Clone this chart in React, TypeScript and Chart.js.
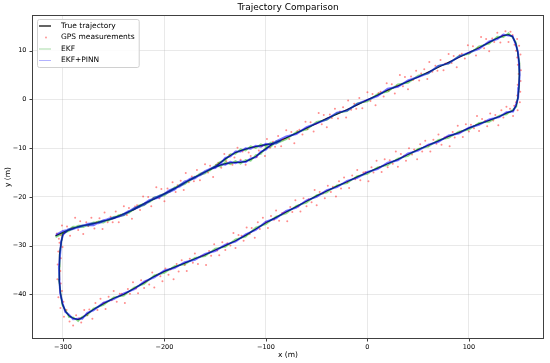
import React, { useEffect, useRef } from 'react';
import { Chart, registerables } from 'chart.js';
Chart.register(...registerables);

const FONT = "'DejaVu Sans', sans-serif";

const xTicks = [-300, -200, -100, 0, 100];
const yTicks = [10, 0, -10, -20, -30, -40];
const xRange = [-330.5, 174];
const yRange = [-49.17, 17.33];

const trueTrajectory: number[][] = [
  [-307.4,-28.0],[-300,-27.3],[-290,-26.4],[-280,-25.9],[-270,-25.5],[-260,-25.0],[-250,-24.4],[-240,-23.5],[-230,-22.6],[-220,-21.4],
  [-210,-20.4],[-200,-19.4],[-190,-18.3],[-180,-17.1],[-170,-16.0],[-160,-14.9],[-150,-13.8],[-145,-13.0],[-140,-12.2],[-135,-11.5],
  [-130,-10.9],[-125,-10.5],[-120,-10.2],[-115,-9.9],[-110,-9.7],[-105,-9.5],[-100,-9.3],[-95,-9.1],[-90,-8.8],[-80,-7.9],
  [-70,-6.9],[-60,-5.9],[-50,-4.9],[-40,-3.9],[-30,-3.0],[-20,-2.1],[-10,-1.1],[0,-0.1],[10,0.9],[20,1.9],
  [30,2.8],[40,3.7],[50,4.6],[60,5.6],[70,6.6],[80,7.6],[90,8.6],[100,9.6],[110,10.6],[120,11.7],
  [128,12.6],[134,13.1],[139,13.3],[143,12.9],[146,11.6],[148,9.8],[149.5,7.5],[149.8,5.0],[149.3,2.5],[148.3,0.3],
  [146.5,-1.3],[143.5,-2.3],[137,-2.8],[130,-3.5],[120,-4.3],[110,-5.0],[100,-5.9],[90,-6.8],[80,-7.6],[70,-8.5],
  [60,-9.4],[50,-10.3],[40,-11.3],[30,-12.3],[20,-13.2],[10,-14.1],[0,-15.0],[-10,-15.9],[-20,-16.9],[-30,-17.8],
  [-40,-18.8],[-50,-19.8],[-60,-20.9],[-70,-22.0],[-80,-23.1],[-90,-24.2],[-100,-25.3],[-110,-26.6],[-120,-27.9],[-130,-29.0],
  [-140,-30.0],[-150,-30.9],[-160,-31.9],[-170,-32.7],[-180,-33.6],[-190,-34.4],[-200,-35.3],[-210,-36.3],[-220,-37.6],[-230,-38.8],
  [-240,-40.0],[-250,-40.8],[-260,-41.9],[-270,-43.1],[-276,-44.0],[-281,-44.8],[-285,-45.2],[-290,-44.9],[-294,-44.4],[-297.5,-43.5],
  [-300.5,-42.0],[-302.5,-39.8],[-303.7,-37.0],[-303.8,-34.5],[-303,-31.8],[-301.6,-29.2],[-300,-27.6],[-295,-26.9],[-285,-26.1],[-275,-25.7],
  [-265,-25.2],[-255,-24.7],[-245,-23.9],[-235,-23.1],[-225,-21.9],[-215,-20.9],[-205,-19.9],[-195,-18.8],[-185,-17.7],[-175,-16.5],
  [-165,-15.4],[-155,-14.4],[-150,-13.9],[-145,-13.5],[-140,-13.2],[-135,-13.0],[-130,-12.9],[-125,-12.9],[-120,-12.7],[-115,-12.3],
  [-110,-11.7],[-105,-10.9],[-100,-10.1],[-95,-9.4],[-90,-8.8],[-85,-8.4],
];

const ekfPinnEstimate: number[][] = [
  [-307.0,-27.8],[-300,-27.0],[-290,-26.6],[-280,-25.8],[-270,-25.8],[-260,-24.8],[-250,-24.4],[-240,-23.7],[-230,-22.3],[-220,-21.6],
  [-210,-20.2],[-200,-19.4],[-190,-18.5],[-180,-16.8],[-170,-16.2],[-160,-14.7],[-150,-13.8],[-145,-13.2],[-140,-12.0],[-135,-11.7],
  [-130,-10.7],[-125,-10.7],[-120,-10.0],[-115,-10.1],[-110,-9.5],[-105,-9.7],[-100,-9.1],[-95,-9.3],[-90,-8.6],[-80,-7.6],
  [-70,-7.1],[-60,-5.7],[-50,-4.9],[-40,-4.1],[-30,-2.7],[-20,-2.3],[-10,-0.9],[0,-0.1],[10,0.7],[20,2.2],
  [30,2.6],[40,3.9],[50,4.6],[60,5.4],[70,6.9],[80,7.4],[90,8.8],[100,9.6],[110,10.4],[120,11.9],
  [128,12.4],[134,13.3],[139,13.1],[143,13.0],[146,11.4],[148.3,9.8],[149.3,7.5],[150.0,5.0],[149.1,2.5],[148.5,0.3],
  [146.3,-1.2],[143.5,-2.5],[137,-2.6],[130,-3.6],[120,-4.1],[110,-5.2],[100,-5.8],[90,-7.0],[80,-7.4],[70,-8.7],
  [60,-9.3],[50,-10.5],[40,-11.1],[30,-12.5],[20,-13.0],[10,-14.3],[0,-14.9],[-10,-16.1],[-20,-16.7],[-30,-18.0],
  [-40,-18.6],[-50,-20.0],[-60,-20.7],[-70,-22.2],[-80,-22.9],[-90,-24.4],[-100,-25.1],[-110,-26.8],[-120,-27.7],[-130,-29.2],
  [-140,-29.8],[-150,-31.1],[-160,-31.7],[-170,-32.9],[-180,-33.4],[-190,-34.6],[-200,-35.1],[-210,-36.5],[-220,-37.4],[-230,-39.0],
  [-240,-39.8],[-250,-41.0],[-260,-41.7],[-270,-43.3],[-276,-43.8],[-281,-45.0],[-285,-45.0],[-290,-45.1],[-294,-44.2],[-297.7,-43.6],
  [-300.3,-41.9],[-302.7,-39.8],[-303.5,-37.0],[-304.0,-34.5],[-302.8,-31.8],[-301.8,-29.2],[-300,-27.8],[-295,-26.7],[-285,-26.3],[-275,-25.5],
  [-265,-25.4],[-255,-24.5],[-245,-24.1],[-235,-22.9],[-225,-22.1],[-215,-20.7],[-205,-20.1],[-195,-18.6],[-185,-17.9],[-175,-16.3],
  [-165,-15.6],[-155,-14.2],[-150,-14.1],[-145,-13.3],[-140,-13.4],[-135,-12.8],[-130,-13.1],[-125,-12.7],[-120,-12.9],[-115,-12.1],
  [-110,-11.9],[-105,-10.7],[-100,-10.3],[-95,-9.2],[-90,-9.0],[-85,-8.3],
];

const ekfEstimate: number[][] = [
  [-307.2,-28.3],[-300,-27.5],[-290,-26.1],[-280,-26.2],[-270,-25.2],[-260,-25.3],[-250,-24.1],[-240,-23.8],[-230,-22.4],[-220,-21.7],
  [-210,-20.1],[-200,-19.7],[-190,-18.0],[-180,-17.4],[-170,-15.8],[-160,-15.2],[-150,-13.6],[-145,-12.8],[-140,-12.5],[-135,-11.2],
  [-130,-11.2],[-125,-10.2],[-120,-10.5],[-115,-9.6],[-110,-10.0],[-105,-9.2],[-100,-9.6],[-95,-8.8],[-90,-9.1],[-80,-8.2],
  [-70,-6.7],[-60,-6.2],[-50,-4.6],[-40,-4.2],[-30,-2.8],[-20,-2.4],[-10,-0.8],[0,-0.4],[10,1.1],[20,1.6],
  [30,3.1],[40,3.4],[50,4.9],[60,5.3],[70,6.9],[80,7.3],[90,8.9],[100,9.3],[110,10.9],[120,11.4],
  [128,12.9],[134,12.8],[139,13.6],[143,12.7],[146.3,11.7],[148.2,9.6],[149.8,7.6],[149.6,4.9],[149.6,2.6],[148.0,0.2],
  [146.8,-1.5],[143.3,-2.1],[137,-3.1],[130,-3.3],[120,-4.6],[110,-4.8],[100,-6.2],[90,-6.6],[80,-7.9],[70,-8.3],
  [60,-9.7],[50,-10.1],[40,-11.6],[30,-12.1],[20,-13.5],[10,-13.9],[0,-15.3],[-10,-15.7],[-20,-17.2],[-30,-17.6],
  [-40,-19.1],[-50,-19.6],[-60,-21.2],[-70,-21.8],[-80,-23.4],[-90,-24.0],[-100,-25.6],[-110,-26.3],[-120,-28.2],[-130,-28.7],
  [-140,-30.3],[-150,-30.6],[-160,-32.2],[-170,-32.5],[-180,-33.9],[-190,-34.2],[-200,-35.6],[-210,-36.1],[-220,-37.9],[-230,-38.6],
  [-240,-40.3],[-250,-40.6],[-260,-42.2],[-270,-42.9],[-276,-44.3],[-281,-44.6],[-285,-45.5],[-290,-44.7],[-294,-44.7],[-297.3,-43.3],
  [-300.7,-42.2],[-302.3,-39.6],[-303.9,-37.2],[-303.6,-34.3],[-303.2,-32.0],[-301.4,-29.0],[-300,-27.4],[-295,-27.1],[-285,-25.9],[-275,-25.9],
  [-265,-25.0],[-255,-24.9],[-245,-23.7],[-235,-23.3],[-225,-21.7],[-215,-21.1],[-205,-19.7],[-195,-19.0],[-185,-17.5],[-175,-16.7],
  [-165,-15.2],[-155,-14.6],[-150,-13.6],[-145,-13.8],[-140,-12.9],[-135,-13.3],[-130,-12.6],[-125,-13.2],[-120,-12.4],[-115,-12.6],
  [-110,-11.4],[-105,-11.2],[-100,-9.8],[-95,-9.7],[-90,-8.6],[-85,-8.5],
];

const gpsMeasurements: number[][] = [
  [-306,-27.5],[-304,-28.6],[-301,-25.9],[-299,-27.4],[-296,-26.1],[-293,-28.0],[-291,-26.4],[-288,-24.3],[-285,-26.8],[-283,-25.0],
  [-280,-27.6],[-277,-25.2],[-275,-26.0],[-272,-24.3],[-269,-26.5],[-267,-25.2],[-264,-24.4],[-261,-26.6],[-259,-23.2],[-256,-25.2],
  [-253,-24.1],[-251,-25.2],[-248,-23.0],[-245,-25.2],[-243,-23.8],[-240,-21.9],[-237,-23.7],[-235,-22.3],[-232,-24.5],[-229,-22.0],
  [-227,-21.7],[-224,-22.7],[-221,-19.9],[-219,-21.4],[-216,-20.0],[-213,-21.9],[-211,-20.3],[-208,-18.0],[-205,-20.3],[-203,-18.4],
  [-200,-20.9],[-197,-18.3],[-195,-18.9],[-192,-17.0],[-189,-19.0],[-187,-17.6],[-184,-16.7],[-181,-18.6],[-179,-15.1],[-176,-17.0],
  [-173,-15.8],[-171,-16.8],[-168,-14.5],[-165,-16.6],[-163,-15.2],[-160,-13.3],[-157,-15.0],[-155,-13.6],[-152,-15.9],[-149,-13.4],
  [-147,-13.0],[-144,-14.0],[-141,-11.2],[-139,-12.7],[-136,-11.4],[-133,-13.4],[-131,-11.9],[-128,-9.9],[-125,-12.4],[-123,-10.7],
  [-120,-13.4],[-117,-10.9],[-115,-11.6],[-112,-9.8],[-109,-11.8],[-107,-10.5],[-104,-9.6],[-101,-11.6],[-99,-8.1],[-96,-9.9],
  [-93,-8.7],[-91,-9.7],[-88,-7.5],[-85,-9.6],[-83,-8.2],[-80,-6.3],[-77,-8.1],[-75,-6.7],[-72,-9.0],[-69,-6.5],
  [-67,-6.2],[-64,-7.2],[-61,-4.6],[-59,-6.1],[-56,-4.7],[-53,-6.6],[-51,-5.0],[-48,-2.8],[-45,-5.1],[-43,-3.2],
  [-40,-5.7],[-37,-3.1],[-35,-3.8],[-32,-1.9],[-29,-3.9],[-27,-2.5],[-24,-1.6],[-21,-3.7],[-19,-0.2],[-16,-2.1],
  [-13,-0.9],[-11,-1.9],[-8,0.3],[-5,-1.8],[-3,-0.4],[0,1.5],[3,-0.3],[5,1.1],[8,-1.2],[11,1.3],
  [13,1.6],[16,0.6],[19,3.3],[21,1.8],[24,3.1],[27,1.2],[29,2.8],[32,5.0],[35,2.7],[37,4.6],
  [40,2.1],[43,4.7],[45,4.0],[48,5.9],[51,3.9],[53,5.3],[56,6.2],[59,4.2],[61,7.7],[64,5.7],
  [67,6.9],[69,5.9],[72,8.1],[75,6.0],[77,7.4],[80,9.3],[83,7.5],[85,8.9],[88,6.6],[91,9.1],
  [93,9.4],[96,8.4],[99,11.1],[101,9.6],[104,10.9],[107,9.0],[109,10.6],[112,12.8],[115,10.5],[117,12.4],
  [120,9.9],[123,12.5],[125,11.8],[128,13.7],[131,11.7],[133,13.1],[136,14.0],[139,11.8],[141,13.9],
  [143,13.2],[145,11.2],[147.5,12.4],[146.5,10.0],[149.5,11.0],[147.6,8.6],[150.8,9.2],[148.2,7.1],[151.2,6.0],[149.0,5.2],
  [150.9,3.8],[148.1,3.0],[150.6,1.6],[147.6,0.8],[150.2,-0.6],[146.4,-0.6],[148.0,-2.2],[144.6,-1.3],[143.5,-3.4],[140.5,-1.9],
  [137,-1.5],[134,-3.7],[132,-2.2],[129,-5.3],[126,-3.2],[124,-4.3],[121,-2.9],[118,-5.5],[116,-4.4],[113,-4.0],
  [110,-6.5],[108,-3.4],[105,-5.9],[102,-5.2],[100,-6.6],[97,-5.1],[94,-7.7],[92,-6.7],[89,-5.4],[86,-7.8],
  [84,-6.7],[81,-9.6],[78,-7.7],[76,-7.8],[73,-9.3],[70,-7.2],[68,-9.1],[65,-8.3],[62,-10.7],[60,-9.5],
  [57,-8.5],[54,-10.7],[52,-9.2],[49,-12.3],[46,-10.3],[44,-11.3],[41,-10.0],[38,-12.6],[36,-11.6],[33,-11.2],
  [30,-13.8],[28,-10.7],[25,-13.2],[22,-12.5],[20,-13.9],[17,-12.3],[14,-14.9],[12,-13.9],[9,-12.6],[6,-15.0],
  [4,-13.9],[1,-16.8],[-2,-14.9],[-4,-15.0],[-7,-16.6],[-10,-14.5],[-12,-16.4],[-15,-15.6],[-18,-18.2],[-20,-17.0],
  [-23,-16.0],[-26,-18.3],[-28,-16.8],[-31,-19.9],[-34,-17.9],[-36,-19.0],[-39,-17.7],[-42,-20.3],[-44,-19.3],[-47,-19.0],
  [-50,-21.7],[-52,-18.6],[-55,-21.1],[-58,-20.5],[-60,-21.9],[-63,-20.3],[-66,-23.0],[-68,-22.0],[-71,-20.7],[-74,-23.1],
  [-76,-22.1],[-79,-25.0],[-82,-23.2],[-84,-23.3],[-87,-24.9],[-90,-22.8],[-92,-24.7],[-95,-23.9],[-98,-26.4],[-100,-25.2],
  [-103,-24.3],[-106,-26.6],[-108,-25.2],[-111,-28.4],[-114,-26.4],[-116,-27.6],[-119,-26.3],[-122,-29.0],[-124,-28.0],[-127,-27.8],
  [-130,-30.5],[-132,-27.4],[-135,-30.0],[-138,-29.5],[-140,-30.9],[-143,-29.3],[-146,-32.0],[-148,-31.0],[-151,-29.7],[-154,-32.1],
  [-156,-31.1],[-159,-34.0],[-162,-32.1],[-164,-32.2],[-167,-33.8],[-170,-31.6],[-172,-33.5],[-175,-32.7],[-178,-35.2],[-180,-34.0],
  [-183,-33.0],[-186,-35.3],[-188,-33.8],[-191,-36.9],[-194,-34.9],[-196,-36.0],[-199,-34.7],[-202,-37.3],[-204,-36.3],[-207,-36.0],
  [-210,-38.6],[-212,-35.5],[-215,-38.0],[-218,-37.3],[-220,-38.7],[-223,-37.1],[-226,-39.8],[-228,-38.8],[-231,-37.5],[-234,-39.9],
  [-236,-38.9],[-239,-41.8],[-242,-39.9],[-244,-39.9],[-247,-41.5],[-250,-39.3],[-252,-41.2],[-255,-40.5],[-258,-43.0],[-260,-41.8],
  [-263,-40.9],[-266,-43.2],[-268,-41.8],[-271,-45.0],[-274,-43.1],[-276,-44.3],[-279,-43.2],[-282,-45.8],[-284,-44.9],[-287,-44.3],
  [-290,-46.4],[-293.5,-45.6],[-296.5,-43.2],[-299,-44.6],[-299.5,-41.5],[-302.5,-42.8],[-301,-39.3],[-304.5,-40.6],[-302.2,-37.8],[-305.5,-36.9],
  [-302.6,-35.2],[-305.2,-33.9],[-302.1,-32.6],[-304.6,-31.2],[-300.4,-30.3],[-303.4,-29.4],[-301.8,-27.9],
];

const legendLabels = ['True trajectory', 'GPS measurements', 'EKF', 'EKF+PINN'];

const toPts = (arr: number[][]) => arr.map(([x, y]) => ({ x, y }));
const fmt = (v: number) => (v < 0 ? '\u2212' + Math.abs(v) : String(v));

const decorPlugin = {
  id: 'decor',
  afterDraw(chart: any) {
    const { ctx, chartArea: a, scales } = chart;
    const xs = scales.x;
    const ys = scales.y;
    ctx.save();
    ctx.strokeStyle = '#404040';
    ctx.lineWidth = 1;
    const L = Math.round(a.left) + 0.5;
    const T = Math.round(a.top) + 0.5;
    const R = Math.round(a.right) - 0.5;
    const B = Math.round(a.bottom) - 0.5;
    ctx.strokeRect(L, T, R - L, B - T);
    ctx.beginPath();
    xTicks.forEach((v) => {
      const p = Math.round(xs.getPixelForValue(v)) + 0.5;
      ctx.moveTo(p, B);
      ctx.lineTo(p, B + 3);
    });
    yTicks.forEach((v) => {
      const p = Math.round(ys.getPixelForValue(v)) + 0.5;
      ctx.moveTo(L - 3, p);
      ctx.lineTo(L, p);
    });
    ctx.stroke();
    ctx.fillStyle = '#000';
    ctx.font = `9px ${FONT}`;
    ctx.textAlign = 'center';
    ctx.textBaseline = 'middle';
    ctx.fillText('Trajectory Comparison', (a.left + a.right) / 2, 8);
    const lx = 37, ly = 19, rowH = 11.5;
    ctx.font = `7.5px ${FONT}`;
    const tw = Math.max(...legendLabels.map((t) => ctx.measureText(t).width));
    const bw = 61 - lx + tw + 4;
    const bh = 48;
    ctx.beginPath();
    ctx.roundRect(lx + 0.5, ly + 0.5, bw, bh, 2);
    ctx.fillStyle = 'rgba(255,255,255,0.85)';
    ctx.fill();
    ctx.strokeStyle = '#d0d0d0';
    ctx.lineWidth = 1;
    ctx.stroke();
    ctx.textAlign = 'left';
    legendLabels.forEach((t, i) => {
      const cy = ly + 7 + i * rowH;
      if (i === 1) {
        ctx.fillStyle = 'rgba(255,0,0,0.45)';
        ctx.beginPath();
        ctx.arc(46, cy, 0.9, 0, Math.PI * 2);
        ctx.fill();
      } else {
        ctx.strokeStyle = i === 0 ? '#222' : i === 2 ? 'rgba(0,150,0,0.35)' : 'rgba(0,0,255,0.3)';
        ctx.lineWidth = i === 0 ? 1.4 : 1;
        ctx.beginPath();
        ctx.moveTo(39, cy);
        ctx.lineTo(51, cy);
        ctx.stroke();
      }
      ctx.fillStyle = '#000';
      ctx.fillText(t, 61, cy);
    });
    ctx.restore();
  },
};

export default function App() {
  const ref = useRef<HTMLCanvasElement>(null);
  useEffect(() => {
    document.body.style.margin = '0';
    const canvas = ref.current!;
    const tickFont = { family: FONT, size: 6.5 };
    const titleFont = { family: FONT, size: 7.5 };
    const gridCfg = { color: 'rgba(176,176,176,0.35)', lineWidth: 0.8, drawTicks: false };
    const chart = new Chart(canvas, {
      type: 'scatter',
      data: {
        datasets: [
          {
            label: legendLabels[0],
            data: toPts(trueTrajectory),
            showLine: true,
            borderColor: '#1a1a1a',
            borderWidth: 1.3,
            pointRadius: 0,
            order: 4,
          },
          {
            label: legendLabels[1],
            data: toPts(gpsMeasurements),
            showLine: false,
            pointRadius: 1,
            pointBorderWidth: 0,
            backgroundColor: 'rgba(255,0,0,0.45)',
            borderColor: 'rgba(255,0,0,0)',
            order: 3,
          },
          {
            label: legendLabels[2],
            data: toPts(ekfEstimate),
            showLine: true,
            borderColor: 'rgba(0,170,0,0.45)',
            borderWidth: 1.6,
            pointRadius: 0,
            order: 2,
          },
          {
            label: legendLabels[3],
            data: toPts(ekfPinnEstimate),
            showLine: true,
            borderColor: 'rgba(0,0,255,0.55)',
            borderWidth: 2,
            pointRadius: 0,
            order: 1,
          },
        ],
      },
      options: {
        responsive: false,
        animation: false,
        events: [],
        layout: { padding: { top: 15, right: 6, left: 0, bottom: 0 } },
        plugins: { legend: { display: false }, title: { display: false }, tooltip: { enabled: false } },
        scales: {
          x: {
            type: 'linear',
            min: xRange[0],
            max: xRange[1],
            afterBuildTicks: (s: any) => { s.ticks = xTicks.map((v) => ({ value: v })); },
            afterFit: (s: any) => { s.height = 24; },
            ticks: { font: tickFont, color: '#000', padding: 4, maxRotation: 0, callback: (v: any) => fmt(Number(v)) },
            grid: gridCfg,
            border: { display: false },
            title: { display: true, text: 'x (m)', font: titleFont, color: '#000', padding: { top: 0, bottom: 3 } },
          },
          y: {
            type: 'linear',
            min: yRange[0],
            max: yRange[1],
            afterBuildTicks: (s: any) => { s.ticks = yTicks.map((v) => ({ value: v })); },
            afterFit: (s: any) => { s.width = 32; },
            ticks: { font: tickFont, color: '#000', padding: 5.5, callback: (v: any) => fmt(Number(v)) },
            grid: gridCfg,
            border: { display: false },
            title: { display: true, text: 'y (m)', font: titleFont, color: '#000', padding: { top: 4, bottom: 0 } },
          },
        },
      },
      plugins: [decorPlugin],
    } as any);
    return () => chart.destroy();
  }, []);
  return <canvas ref={ref} width={550} height={363} style={{ display: 'block' }} />;
}
